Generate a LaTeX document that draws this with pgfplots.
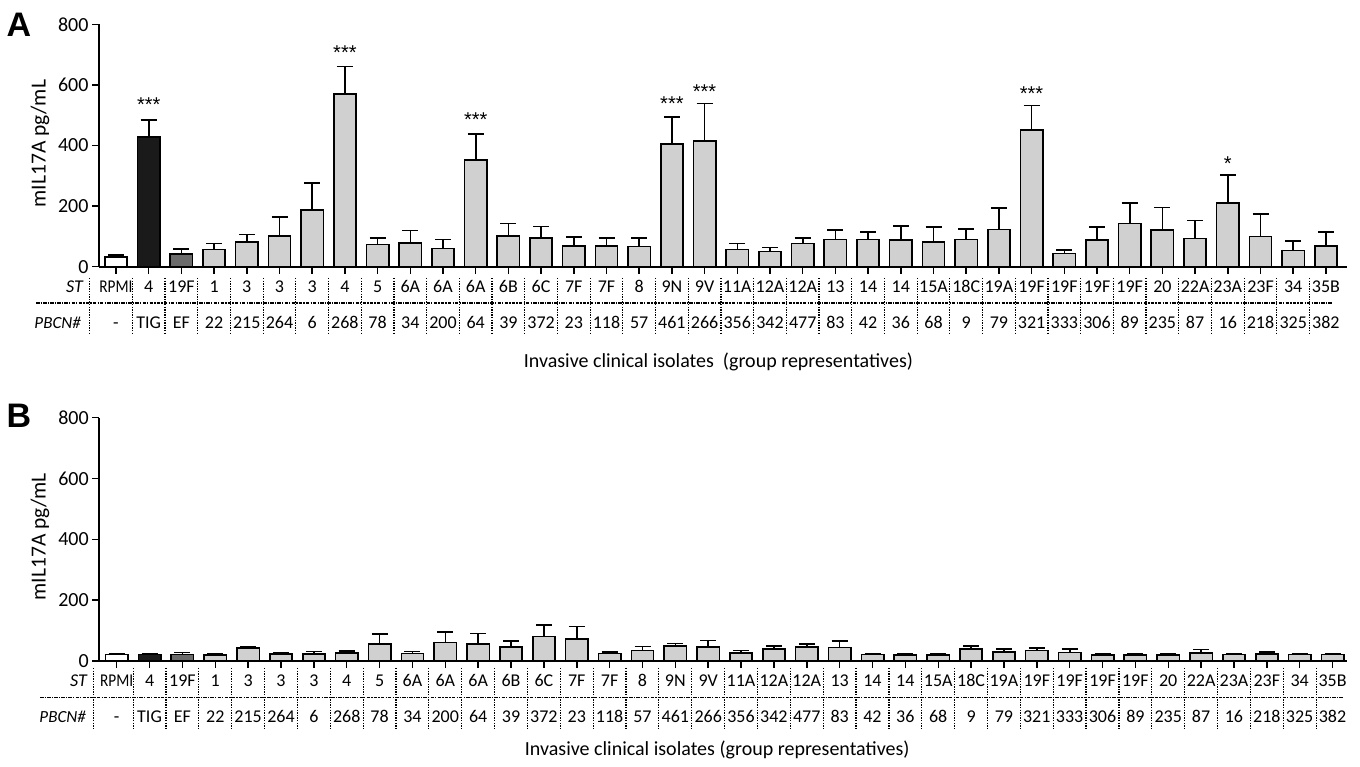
\documentclass[border=0pt]{standalone}
\usepackage{graphicx}
\usepackage{pgfplots}
\pgfplotsset{compat=1.18}
\usepackage{pgfplotstable}
\usepackage{fontspec}
\setmainfont{Carlito}
\newfontfamily\lib{Liberation Sans}

\definecolor{lg}{HTML}{D0D0D0}
\definecolor{dg}{HTML}{6B6B6B}
\definecolor{bk}{HTML}{1A1A1A}

\pgfplotstableread{
x y t
0 32 38.5
1 428 484
2 41 58
3 57 76
4 81 106
5 102 164
6 188 276
7 569 661
8 73 95
9 78 120
10 60.5 90
11 353 438
12 102 142
13 95 132
14 69 97
15 69 94
16 67 94
17 404 494
18 415 539
19 57 76
20 49.5 63
21 77 95
22 90 121
23 90 114
24 88 134
25 81 131
26 90 124
27 123 194
28 452 532
29 43 55
30 88 131
31 143 211
32 121 195
33 93.5 153
34 211 302
35 100 173
36 54 84
37 69 114
}\tA

\pgfplotstableread{
x y t
0 21 24
1 21 24
2 22 28.5
3 20 23
4 42 48
5 23 27
6 23 31
7 27 33
8 56 89
9 25 31
10 61 96
11 55 91
12 47 65
13 80 119
14 72 113
15 24 30
16 35 47
17 49 58
18 46 68
19 26 34
20 39.5 50
21 47 56
22 45 66
23 22 25
24 20 23
25 20 23
26 39.5 50
27 30 39
28 34 43
29 28.5 39
30 20 23
31 20 23
32 20 23
33 26 38
34 22 25
35 23 30
36 21 24
37 21 24
}\tB

\pgfplotsset{
  panel/.style={
    scale only axis, height=242.4pt,
    ymin=0, ymax=800, ytick={0,200,400,600,800},
    axis x line*=bottom, axis y line*=left,
    axis line style={line width=1.8pt, -},
    xtick={0,...,37}, xticklabels={},
    major tick length=7pt, tick align=outside,
    tick style={line width=1.5pt, black},
    yticklabel style={font=\fontsize{20}{24}\selectfont},
    /pgf/number format/assume math mode=true,
    clip=false,
  },
  br/.style={ybar, bar shift=0pt, bar width=0.68, draw=black, line width=1.6pt,
     error bars/y dir=plus, error bars/y explicit,
     error bars/error bar style={line width=1.6pt, black, solid},
     error bars/error mark options={rotate=90, line width=1.6pt, mark size=8pt, black}},
}

\newcommand{\STlist}{{\scalebox{0.85}[1]{RPMI}},4,19F,1,3,3,3,4,5,6A,6A,6A,6B,6C,7F,7F,8,9N,9V,11A,12A,12A,13,14,14,15A,18C,19A,19F,19F,19F,19F,20,22A,23A,23F,34,35B}
\newcommand{\PBlist}{-,TIG,EF,22,215,264,6,268,78,34,200,64,39,372,23,118,57,461,266,356,342,477,83,42,36,68,9,79,321,333,306,89,235,87,16,218,325,382}

\begin{document}
\begin{tikzpicture}
\useasboundingbox (0pt,0pt) rectangle (1360pt,767pt);

% ---------------- Panel A ----------------
\begin{axis}[panel, width=1248pt, xmin=-0.52, xmax=37.645,
  anchor=south west, at={(99pt,500.3pt)}]
\addplot[br, fill=white, restrict x to domain=-0.5:0.5] table[x=x,y=y,y error expr=\thisrow{t}-\thisrow{y}] {\tA};
\addplot[br, fill=bk, restrict x to domain=0.5:1.5] table[x=x,y=y,y error expr=\thisrow{t}-\thisrow{y}] {\tA};
\addplot[br, fill=dg, restrict x to domain=1.5:2.5] table[x=x,y=y,y error expr=\thisrow{t}-\thisrow{y}] {\tA};
\addplot[br, fill=lg, restrict x to domain=2.5:37.5] table[x=x,y=y,y error expr=\thisrow{t}-\thisrow{y}] {\tA};
\begin{scope}[every node/.style={font=\lib\fontsize{20}{24}\selectfont, anchor=base, inner sep=0pt}]
\node at (axis cs:1,511) {***};
\node at (axis cs:7,684) {***};
\node at (axis cs:11,462) {***};
\node at (axis cs:17,514) {***};
\node at (axis cs:18,556) {***};
\node at (axis cs:28,547) {***};
\node at (axis cs:34,319) {*};
\end{scope}
\end{axis}

% ---------------- Panel B ----------------
\begin{axis}[panel, width=1247.4pt, xmin=-0.53, xmax=37.43,
  anchor=south west, at={(99.3pt,106pt)}, height=243.3pt]
\addplot[br, fill=white, restrict x to domain=-0.5:0.5] table[x=x,y=y,y error expr=\thisrow{t}-\thisrow{y}] {\tB};
\addplot[br, fill=bk, restrict x to domain=0.5:1.5] table[x=x,y=y,y error expr=\thisrow{t}-\thisrow{y}] {\tB};
\addplot[br, fill=dg, restrict x to domain=1.5:2.5] table[x=x,y=y,y error expr=\thisrow{t}-\thisrow{y}] {\tB};
\addplot[br, fill=lg, restrict x to domain=2.5:37.5] table[x=x,y=y,y error expr=\thisrow{t}-\thisrow{y}] {\tB};
\end{axis}

% ---------------- panel letters, axis titles ----------------
\node[font=\lib\bfseries\fontsize{34}{38}\selectfont, anchor=base west, inner sep=0pt] at (6.5pt,730.3pt) {A};
\node[font=\lib\bfseries\fontsize{34}{38}\selectfont, anchor=base west, inner sep=0pt] at (6.5pt,339.7pt) {B};
\node[rotate=90, font=\fontsize{21.5}{25}\selectfont, inner sep=0pt] at (40pt,623.5pt) {mIL17A pg/mL};
\node[rotate=90, font=\fontsize{21.5}{25}\selectfont, inner sep=0pt] at (40pt,230.3pt) {mIL17A pg/mL};
\node[font=\fontsize{20}{24}\selectfont, anchor=base, inner sep=0pt] at (718.4pt,399.3pt) {Invasive clinical isolates\ \ (group representatives)};
\node[font=\fontsize{20}{24}\selectfont, anchor=base, inner sep=0pt] at (717.2pt,11.3pt) {Invasive clinical isolates (group representatives)};

% ---------------- table rows ----------------
\begin{scope}[every node/.style={font=\fontsize{18}{21}\selectfont, anchor=base, inner sep=0pt}]
\foreach \s [count=\i from 0] in \STlist {
  \node at ({(116+32.7*\i)*1pt},474.5pt) {\s};
  \node at ({(116.7+32.86*\i)*1pt},80.3pt) {\s};
}
\foreach \s [count=\i from 0] in \PBlist {
  \node at ({(116+32.7*\i)*1pt},438.5pt) {\s};
  \node at ({(116.7+32.86*\i)*1pt},44.7pt) {\s};
}
\node[anchor=base east] at (83pt,474.5pt) {\itshape ST};
\node[anchor=base east, font=\fontsize{17}{20}\selectfont] at (81pt,438.5pt) {\itshape PBCN\#};
\node[anchor=base east] at (87pt,80.3pt) {\itshape ST};
\node[anchor=base east, font=\fontsize{17}{20}\selectfont] at (86pt,44.7pt) {\itshape PBCN\#};
\end{scope}

\begin{scope}[line width=1.2pt, dash pattern=on 3.5pt off 1.2pt on 1.2pt off 1.2pt]
\draw (36pt,464pt) -- (1332pt,464pt);
\draw (40pt,69.3pt) -- (1343pt,69.3pt);
\end{scope}
\begin{scope}[line width=1.2pt, dash pattern=on 1.4pt off 1.2pt]
\draw (89.3pt,489pt) -- (89.3pt,432pt);
\draw (93.3pt,99pt) -- (93.3pt,37pt);
\foreach \i in {0,...,36} {
  \draw ({(116+32.7*(\i+0.5))*1pt},489pt) -- ({(116+32.7*(\i+0.5))*1pt},432pt);
  \draw ({(116.7+32.86*(\i+0.5))*1pt},99pt) -- ({(116.7+32.86*(\i+0.5))*1pt},37pt);
}
\end{scope}
\end{tikzpicture}
\end{document}
